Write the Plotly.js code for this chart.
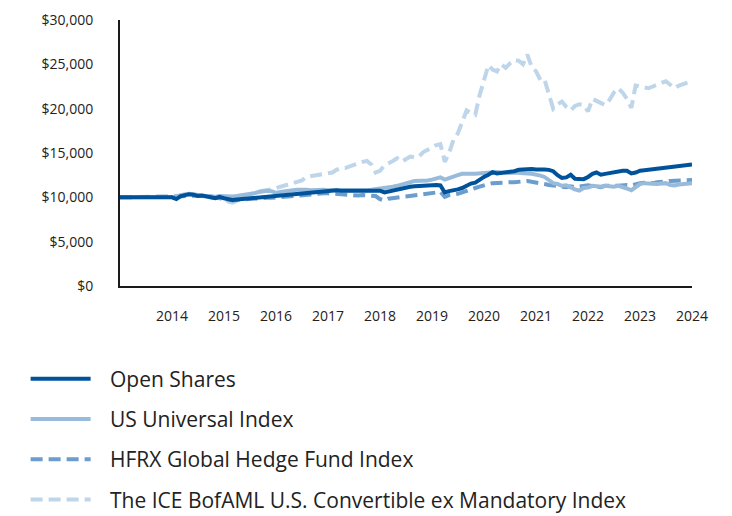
<!DOCTYPE html>
<html>
<head>
<meta charset="utf-8">
<script src="https://cdn.plot.ly/plotly-3.0.1.min.js"></script>
<style>html,body{margin:0;padding:0;background:#fff;}#chart{width:732px;height:516px;}</style>
</head>
<body>
<div id="chart"></div>
<script>
// Monthly values, Jan 2013 through Jan 2024 (133 points)
const startYear = 2013;
const seriesNames = ["Open Shares", "US Universal Index", "HFRX Global Hedge Fund Index", "The ICE BofAML U.S. Convertible ex Mandatory Index"];
const yearTicks = ["2014","2015","2016","2017","2018","2019","2020","2021","2022","2023","2024"];
const yTickValues = [0, 5000, 10000, 15000, 20000, 25000, 30000];
const yTickText = ["$0", "$5,000", "$10,000", "$15,000", "$20,000", "$25,000", "$30,000"];

const openShares = [
10000,10000,10000,10000,10000,10000,10000,10000,10000,10000,10000,10000,
10000,9800,10100,10250,10350,10300,10150,10200,10050,10000,9900,10050,
9900,9750,9700,9750,9800,9850,9900,9950,10000,10050,10050,10100,
10150,10250,10300,10350,10400,10450,10500,10550,10600,10650,10700,10700,
10750,10750,10800,10750,10750,10800,10800,10800,10850,10850,10850,10800,
10750,10550,10650,10800,10950,11050,11150,11200,11250,11300,11300,11350,
11400,11400,11350,10550,10700,10750,10900,11050,11350,11550,11650,12000,
12300,12550,12850,12700,12750,12800,12850,12950,13100,13150,13200,13200,
13150,13200,13150,13100,12950,12500,12200,12250,12550,12100,12050,12050,
12300,12650,12800,12550,12650,12750,12850,12950,13000,13000,12700,12800,
13000,13050,13100,13200,13250,13350,13400,13450,13450,13500,13600,13650,
13700];

const usUniversal = [
10000,10000,10000,10000,10000,10000,10000,10000,10000,10000,10000,10000,
10000,10050,10200,10300,10400,10350,10250,10200,10100,10150,10050,10150,
10100,10050,10100,10150,10200,10350,10400,10450,10600,10700,10750,10700,
10500,10600,10700,10750,10800,10850,10900,10850,10800,10850,10900,10850,
10800,10800,10750,10700,10750,10750,10800,10750,10750,10800,10850,10900,
10950,11000,11100,11200,11300,11400,11500,11700,11850,11850,11900,11900,
12000,12150,12250,12000,12200,12350,12500,12650,12700,12650,12650,12700,
12800,12850,12800,12850,12800,12750,12750,12800,12800,12700,12700,12650,
12600,12450,12300,11950,11600,11500,11300,11350,11100,10900,10750,11050,
11100,11300,11250,11200,11300,11250,11200,11300,11200,11000,10800,11100,
11500,11600,11550,11600,11500,11550,11600,11400,11350,11450,11500,11550,
11600];

const hfrx = [
10000,10000,10000,10000,10000,10000,10000,10000,10000,10000,10000,10000,
10000,10050,10100,10150,10200,10250,10200,10150,10100,10000,9950,10000,
9850,9750,9650,9700,9750,9800,9850,9800,9850,9900,9950,9950,
10000,10050,10100,10150,10150,10200,10250,10300,10300,10350,10400,10450,
10450,10400,10350,10300,10250,10300,10250,10200,10250,10250,10200,10150,
9800,9650,9850,9950,10000,10050,10100,10150,10200,10250,10300,10350,
10450,10550,10650,10050,10250,10300,10400,10550,10750,10950,11050,11200,
11400,11500,11600,11650,11700,11750,11700,11700,11750,11800,11850,11750,
11700,11600,11500,11400,11300,11250,11200,11150,11250,11150,11250,11300,
11350,11250,11200,11150,11300,11250,11300,11300,11400,11400,11350,11500,
11600,11650,11600,11600,11700,11800,11800,11850,11850,11850,11900,11900,
11950];

const iceConvertible = [
10000,10000,10000,10000,10000,10000,10000,10000,10000,10000,10000,10000,
10000,10100,10250,10350,10400,10300,10200,10150,10100,10000,9900,10100,
9900,9500,9400,9600,9900,10100,10300,10500,10650,10750,10800,10900,
11050,11200,11350,11500,11700,11800,11900,12300,12400,12500,12600,12700,
12750,12800,13100,13300,13300,13500,13700,13800,14000,14100,13700,12800,
13000,13600,13900,14100,14400,14000,14300,14600,14500,14600,15100,15400,
15700,15900,16000,14000,15000,16500,17200,18500,19800,19500,19300,21500,
23300,24900,24400,24200,25000,24600,25100,25500,25400,25000,26100,24700,
24200,23200,23300,21400,20000,20500,20800,20200,19800,20300,20500,20400,
19700,21100,20900,20700,20400,21000,21800,22300,21800,21100,20100,22600,
22500,22400,22300,22500,22700,23000,23100,22700,22300,22600,22800,22900,
23100];

// month dates
const months = [];
for (let i = 0; i < openShares.length; i++) {
  const y = startYear + Math.floor(i / 12);
  const m = (i % 12) + 1;
  months.push(y + "-" + (m < 10 ? "0" + m : m) + "-01");
}
const tickDates = yearTicks.map(y => y + "-01-01");

const colors = ["#00529b", "#98bbdc", "#6b9dcd", "#bed5ea"];
const series = [iceConvertible, hfrx, usUniversal, openShares];
const idx = [3, 2, 1, 0];
const dashes = ["12px,6px", "12px,6px", "solid", "solid"];
const pad = "\u00a0\u00a0\u2009";

const traces = series.map((vals, k) => ({
  x: months,
  y: vals,
  type: "scatter",
  mode: "lines",
  name: pad + seriesNames[idx[k]],
  legendrank: idx[k] + 1,
  legendgroup: "g" + idx[k],
  line: { color: colors[idx[k]], width: 4, dash: dashes[k] },
  hoverinfo: "skip"
}));

const layout = {
  width: 732, height: 516,
  margin: { l: 120, r: 40, t: 20, b: 230, autoexpand: false },
  paper_bgcolor: "#ffffff", plot_bgcolor: "#ffffff",
  font: { family: "Open Sans, Noto Sans, sans-serif", color: "#222222", size: 14 },
  showlegend: true,
  legend: {
    x: -0.165, xanchor: "left", y: -0.2725, yanchor: "top",
    orientation: "v",
    font: { size: 21, color: "#222222" },
    itemwidth: 60,
    tracegroupgap: 10,
    bgcolor: "rgba(0,0,0,0)"
  },
  xaxis: {
    type: "date",
    range: ["2013-01-01", "2024-01-01"],
    tickvals: tickDates, ticktext: yearTicks,
    showgrid: false, zeroline: false,
    showline: true, linecolor: "#1a1a1a", linewidth: 2,
    ticks: "outside", ticklen: 16, tickcolor: "rgba(0,0,0,0)",
    tickfont: { size: 14, color: "#222222" }
  },
  yaxis: {
    range: [0, 30000],
    tickvals: yTickValues, ticktext: yTickText,
    showgrid: false, zeroline: false,
    showline: true, linecolor: "#1a1a1a", linewidth: 2,
    ticks: "outside", ticklen: 22, tickcolor: "rgba(0,0,0,0)",
    tickfont: { size: 14, color: "#222222" }
  }
};

Plotly.newPlot("chart", traces, layout, { staticPlot: true, displayModeBar: false });
</script>
</body>
</html>
